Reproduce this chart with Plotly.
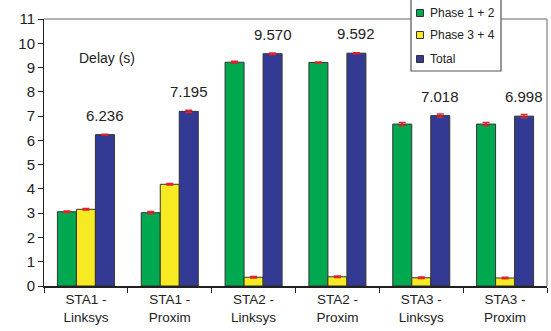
import plotly.graph_objects as go

categories = ["STA1 -<br>Linksys", "STA1 -<br>Proxim", "STA2 -<br>Linksys",
              "STA2 -<br>Proxim", "STA3 -<br>Linksys", "STA3 -<br>Proxim"]
phase12 = [3.06, 3.02, 9.22, 9.21, 6.67, 6.67]
phase34 = [3.16, 4.19, 0.36, 0.38, 0.34, 0.33]
total = [6.236, 7.195, 9.570, 9.592, 7.018, 6.998]
err12 = [0.03, 0.05, 0.04, 0.02, 0.07, 0.07]
err34 = [0.03, 0.03, 0.03, 0.03, 0.03, 0.03]
errtot = [0.02, 0.05, 0.03, 0.02, 0.07, 0.07]
total_labels = ["6.236", "7.195", "9.570", "9.592", "7.018", "6.998"]
series_names = ["Phase 1 + 2", "Phase 3 + 4", "Total"]
series_colors = ["#00a84f", "#f7ea23", "#333a94"]

FONT = "Liberation Sans, Arial, sans-serif"
TXT = "#222222"

W, H = 551, 331
ml, mr, mt, mb = 44, 4, 19, 45
pw, ph = W - ml - mr, H - mt - mb

def px(x):
    return (x - ml) / pw

def py(y):
    return (H - mb - y) / ph

def err(vals):
    return dict(type="data", array=vals, color="#e8202a", thickness=1.5, width=3.5)

fig = go.Figure()
for name, vals, errs, col in zip(series_names, [phase12, phase34, total],
                                 [err12, err34, errtot], series_colors):
    fig.add_trace(go.Bar(name=name, x=categories, y=vals, error_y=err(errs),
                         marker=dict(color=col, line=dict(color="#333333", width=1)),
                         showlegend=False))

annotations = []
for c, v, lab in zip(categories, total, total_labels):
    annotations.append(dict(x=c, y=v, text=lab, xref="x", yref="y", showarrow=False,
                            xshift=19, yshift=9, yanchor="bottom",
                            font=dict(family=FONT, size=15, color=TXT)))
annotations.append(dict(x=px(107), y=py(58), xref="paper", yref="paper", text="Delay (s)",
                        showarrow=False, xanchor="center", yanchor="middle",
                        font=dict(family=FONT, size=14, color=TXT)))

shapes = [
    dict(type="line", xref="paper", yref="paper", x0=0, x1=1, y0=1, y1=1,
         line=dict(color="#999999", width=1.5), layer="below"),
    dict(type="line", xref="paper", yref="paper", x0=1, x1=1, y0=0, y1=1,
         line=dict(color="#999999", width=1.5), layer="below"),
    # legend box
    dict(type="rect", xref="paper", yref="paper", x0=px(411), x1=px(501), y0=py(71), y1=py(-1),
         fillcolor="white", line=dict(color="#555555", width=1.2), layer="above"),
]
leg_y = [13, 35, 59]
for name, col, yy in zip(series_names, series_colors, leg_y):
    shapes.append(dict(type="rect", xref="paper", yref="paper",
                       x0=px(416.5), x1=px(423.5), y0=py(yy + 3.5), y1=py(yy - 3.5),
                       fillcolor=col, line=dict(color="#333333", width=1), layer="above"))
    annotations.append(dict(x=px(428), y=py(yy), xref="paper", yref="paper", text=name,
                            showarrow=False, xanchor="left", yanchor="middle",
                            font=dict(family=FONT, size=12, color=TXT)))

fig.update_layout(
    width=W, height=H,
    margin=dict(l=ml, r=mr, t=mt, b=mb, pad=0),
    paper_bgcolor="white", plot_bgcolor="white",
    barmode="group", bargap=0.32, bargroupgap=0,
    font=dict(family=FONT, color=TXT),
    showlegend=False,
    annotations=annotations,
    shapes=shapes,
)
fig.update_yaxes(range=[0, 11], dtick=1, showgrid=False, showline=True, linecolor="#222222",
                 linewidth=1, ticks="outside", ticklen=5, tickcolor="#222222",
                 tickfont=dict(family=FONT, size=15, color=TXT), zeroline=False)
fig.update_xaxes(showgrid=False, showline=True, linecolor="#222222", linewidth=1.5,
                 ticks="outside", tickson="boundaries", ticklen=5, tickcolor="#222222",
                 tickfont=dict(family=FONT, size=13.5, color=TXT))

fig.write_html("out.html")
